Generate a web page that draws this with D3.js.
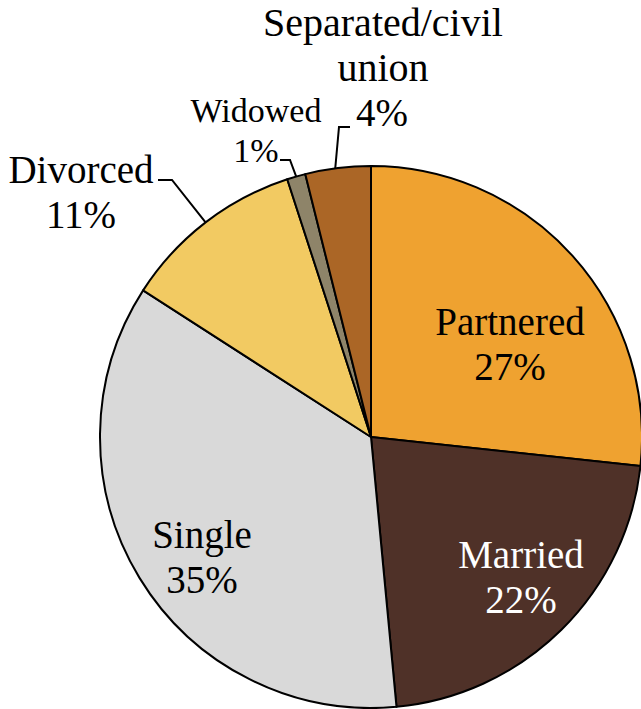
<!DOCTYPE html>
<html>
<head>
<meta charset="utf-8">
<script src="https://cdn.jsdelivr.net/npm/d3@7"></script>
<style>
  body { margin: 0; background: #fff; }
  svg { display: block; }
  text { font-family: "Liberation Serif", serif; fill: #000; }
</style>
</head>
<body>
<svg width="641" height="709"></svg>
<script>
// slices, clockwise from 12 o'clock
var categories = ["Partnered", "Married", "Single", "Divorced", "Widowed", "Separated/civil union"];
var values = [26.7, 21.8, 35.6, 10.9, 1.1, 3.9];
var pctLabels = ["27%", "22%", "35%", "11%", "1%", "4%"];
var colors = ["#EFA230", "#4F3128", "#D9D9D9", "#F2CA62", "#8E8469", "#AB6626"];

var w = 641, h = 709;
var cx = 371, cy = 437, r = 271;

var svg = d3.select("svg");
var g = svg.append("g").attr("transform", "translate(" + cx + "," + cy + ")");

var pie = d3.pie().sort(null).value(function(d) { return d; });
var arc = d3.arc().innerRadius(0).outerRadius(r);
var arcs = pie(values);

g.selectAll("path.slice")
  .data(arcs)
  .enter()
  .append("path")
  .classed("slice", true)
  .attr("d", arc)
  .attr("fill", function(d, i) { return colors[i]; })
  .attr("stroke", "#000")
  .attr("stroke-width", 2)
  .attr("stroke-linejoin", "round");

// label placement (absolute), lines of text per slice
var labels = [
  { lines: ["Partnered", pctLabels[0]], x: 510, y: 335, size: 39, fill: "#000" },
  { lines: ["Married", pctLabels[1]], x: 521, y: 568, size: 39, fill: "#fff" },
  { lines: ["Single", pctLabels[2]], x: 202, y: 548, size: 39, fill: "#000" },
  { lines: ["Divorced", pctLabels[3]], x: 81, y: 183, size: 39, fill: "#000" },
  { lines: ["Widowed", pctLabels[4]], x: 256, y: 122, size: 34, fill: "#000", lh: 40 },
  { lines: ["Separated/civil", "union"], x: 383, y: 36, size: 40, fill: "#000" }
];

labels.forEach(function(l) {
  var t = svg.append("text")
    .attr("text-anchor", "middle")
    .attr("font-size", l.size)
    .style("fill", l.fill);
  l.lines.forEach(function(s, j) {
    t.append("tspan")
      .attr("x", l.x)
      .attr("y", l.y + j * (l.lh || 45))
      .text(s);
  });
});

// separate 4% label (left aligned beside its leader)
svg.append("text")
  .attr("x", 356).attr("y", 126)
  .attr("font-size", 39)
  .text(pctLabels[5]);

// leader lines: from label elbow to slice edge (edge point from the arc)
function edgePoint(d, frac) {
  var a = d.startAngle + (d.endAngle - d.startAngle) * frac;
  return [cx + r * Math.sin(a), cy - r * Math.cos(a)];
}
var leaders = [
  { slice: 3, pts: [[158, 180], [172, 180]], frac: 0.5 },
  { slice: 4, pts: [[280, 160], [290, 160]], frac: 0.5 },
  { slice: 5, pts: [[350, 127], [339, 127]], frac: 0.46 }
];
leaders.forEach(function(l) {
  var e = edgePoint(arcs[l.slice], l.frac);
  svg.append("polyline")
    .attr("points", l.pts.concat([e]).map(function(p) { return p.join(","); }).join(" "))
    .attr("fill", "none")
    .attr("stroke", "#000")
    .attr("stroke-width", 2);
});
</script>
</body>
</html>
